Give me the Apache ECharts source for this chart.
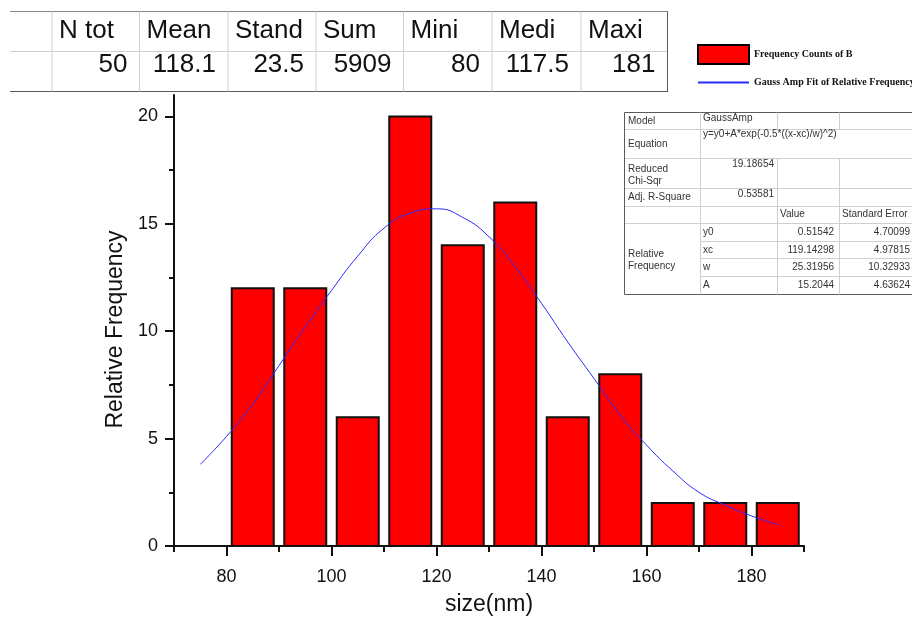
<!DOCTYPE html>
<html>
<head>
<meta charset="utf-8">
<script src="https://cdn.jsdelivr.net/npm/echarts@6/dist/echarts.min.js"></script>
<style>
  html, body { margin: 0; padding: 0; background: #fff; }
  #chart { width: 912px; height: 622px; }
</style>
</head>
<body>
<div id="chart"></div>
<script>
  // histogram bins (left edge, width 10) and counts
  var binStarts = [80, 90, 100, 110, 120, 130, 140, 150, 160, 170, 180];
  var counts = [12, 12, 6, 20, 14, 16, 6, 8, 2, 2, 2];

  // gauss fit curve
  var fitX = [75, 80, 85, 90, 95, 100, 105, 110, 115, 120, 125, 130, 135, 140, 145, 150, 155, 160, 165, 170, 175, 180, 185];
  var fitY = [3.8, 5.1, 6.6, 8.4, 10.2, 11.9, 13.5, 14.8, 15.5, 15.7, 15.3, 14.4, 13.0, 11.3, 9.5, 7.8, 6.1, 4.7, 3.5, 2.5, 1.9, 1.4, 1.0];

  // axis ticks
  var xMajor = [80, 100, 120, 140, 160, 180];
  var xMinor = [70, 90, 110, 130, 150, 170, 190];
  var yMajor = [0, 5, 10, 15, 20];
  var yMinor = [2.5, 7.5, 12.5, 17.5];

  // statistics table
  var statHeaders = ['N tot', 'Mean', 'Stand', 'Sum', 'Mini', 'Medi', 'Maxi'];
  var statValues = ['50', '118.1', '23.5', '5909', '80', '117.5', '181'];

  // fit parameter table
  var fitParams = ['y0', 'xc', 'w', 'A'];
  var fitValues = ['0.51542', '119.14298', '25.31956', '15.2044'];
  var fitErrors = ['4.70099', '4.97815', '10.32933', '4.63624'];

  var BIN_W = 10, GAP = 1;
  var SANS = 'Liberation Sans, Arial, sans-serif';
  var LIGHT = '#cfcfcf', DARK = '#5a5a5a';

  var graphics = [];
  function hline(x1, x2, y, c) {
    graphics.push({ type: 'line', shape: { x1: x1, y1: y, x2: x2, y2: y }, style: { stroke: c, lineWidth: 1 }, silent: true });
  }
  function vline(x, y1, y2, c) {
    graphics.push({ type: 'line', shape: { x1: x, y1: y1, x2: x, y2: y2 }, style: { stroke: c, lineWidth: 1 }, silent: true });
  }
  function txt(s, x, y, size, align, color) {
    graphics.push({
      type: 'text', x: x, y: y, silent: true,
      style: { text: s, fontSize: size, fontFamily: SANS, fill: color || '#111',
        align: align, textAlign: align, verticalAlign: 'middle', textVerticalAlign: 'middle' }
    });
  }

  // --- stats table (top left)
  var sCols = [52, 139.5, 228, 316, 403.5, 492, 581, 667.5];
  hline(10, 668, 11.5, '#888');
  hline(10, 668, 51.5, LIGHT);
  hline(10, 668, 91.5, DARK);
  for (var i = 0; i < sCols.length - 1; i++) vline(sCols[i], 11.5, 91.5, LIGHT);
  vline(667.5, 11.5, 91.5, DARK);
  statHeaders.forEach(function (h, i) {
    txt(h, sCols[i] + 7, 31, 26, 'left');
    txt(statValues[i], sCols[i + 1] - 12, 65, 26, 'right');
  });

  // --- fit table (top right)
  var fc = [624.5, 700.5, 777.5, 839.5, 912];
  var fr = [112.5, 129.5, 158.5, 188.5, 206.5, 223.5, 241.5, 258.5, 276.5, 294.5];
  hline(fc[0], 912, fr[0], DARK);
  hline(fc[0], 912, fr[9], DARK);
  for (var r = 1; r <= 5; r++) hline(fc[0], 912, fr[r], LIGHT);
  for (var r2 = 6; r2 <= 8; r2++) hline(fc[1], 912, fr[r2], LIGHT);
  vline(fc[0], fr[0], fr[9], DARK);
  vline(fc[1], fr[0], fr[9], LIGHT);
  [fc[2], fc[3]].forEach(function (x) {
    vline(x, fr[0], fr[1], LIGHT);
    vline(x, fr[2], fr[9], LIGHT);
  });
  var C = '#333';
  txt('Model', 628, 121, 10, 'left', C);
  txt('GaussAmp', 703, 118, 10, 'left', C);
  txt('Equation', 628, 144, 10, 'left', C);
  txt('y=y0+A*exp(-0.5*((x-xc)/w)^2)', 703, 134, 10, 'left', C);
  txt('Reduced', 628, 169, 10, 'left', C);
  txt('Chi-Sqr', 628, 181, 10, 'left', C);
  txt('19.18654', 774, 164, 10, 'right', C);
  txt('Adj. R-Square', 628, 197, 10, 'left', C);
  txt('0.53581', 774, 194, 10, 'right', C);
  txt('Value', 780, 214, 10, 'left', C);
  txt('Standard Error', 842, 214, 10, 'left', C);
  txt('Relative', 628, 254, 10, 'left', C);
  txt('Frequency', 628, 266, 10, 'left', C);
  fitParams.forEach(function (p, i) {
    var cy = (fr[5 + i] + fr[6 + i]) / 2;
    txt(p, 703, cy, 10, 'left', C);
    txt(fitValues[i], 834, cy, 10, 'right', C);
    txt(fitErrors[i], 910, cy, 10, 'right', C);
  });

  var chart = echarts.init(document.getElementById('chart'));
  var axisCol = '#111';
  var option = {
    animation: false,
    backgroundColor: '#fff',
    grid: { left: 174, right: 108, top: 95, bottom: 76 },
    legend: {
      orient: 'vertical', left: 692, top: 39,
      itemWidth: 51, itemHeight: 19, itemGap: 10,
      textStyle: { fontFamily: 'Liberation Serif, Times New Roman, serif', fontWeight: 'bold', fontSize: 10, color: '#111' },
      data: [
        { name: 'Frequency Counts of B', icon: 'rect', itemStyle: { color: '#ff0000', borderColor: '#000', borderWidth: 2 } },
        { name: 'Gauss Amp Fit of Relative Frequency', itemStyle: { opacity: 0, color: 'transparent', borderWidth: 0 } }
      ]
    },
    xAxis: [{
      type: 'value', min: 70, max: 190,
      name: 'size(nm)', nameLocation: 'middle', nameGap: 47,
      nameTextStyle: { fontFamily: SANS, fontSize: 23, color: '#111' },
      axisLine: { show: true, lineStyle: { color: axisCol, width: 2 } },
      axisTick: { show: true, customValues: xMajor, length: 10, lineStyle: { color: axisCol, width: 2 } },
      axisLabel: { customValues: xMajor, margin: 22, fontFamily: SANS, fontSize: 18, color: '#111' },
      splitLine: { show: false }
    }, {
      type: 'value', min: 70, max: 190, position: 'bottom',
      axisLine: { show: false },
      axisTick: { show: true, customValues: xMinor, length: 6, lineStyle: { color: axisCol, width: 2 } },
      axisLabel: { show: false },
      splitLine: { show: false }
    }],
    yAxis: [{
      type: 'value', min: 0, max: 21,
      name: 'Relative Frequency', nameLocation: 'middle', nameGap: 45,
      nameTextStyle: { fontFamily: SANS, fontSize: 23, color: '#111', padding: [0, 18, 0, 0] },
      axisLine: { show: true, lineStyle: { color: axisCol, width: 2 } },
      axisTick: { show: true, customValues: yMajor, length: 9, lineStyle: { color: axisCol, width: 2 } },
      axisLabel: { customValues: yMajor, margin: 16, fontFamily: SANS, fontSize: 18, color: '#111' },
      splitLine: { show: false }
    }, {
      type: 'value', min: 0, max: 21, position: 'left',
      axisLine: { show: false },
      axisTick: { show: true, customValues: yMinor, length: 5, lineStyle: { color: axisCol, width: 2 } },
      axisLabel: { show: false },
      splitLine: { show: false }
    }],
    series: [{
      name: 'Frequency Counts of B',
      type: 'custom',
      xAxisIndex: 0, yAxisIndex: 0,
      itemStyle: { color: '#ff0000', borderColor: '#000', borderWidth: 2 },
      encode: { x: [0, 1], y: 2 },
      data: binStarts.map(function (b, i) { return [b, b + BIN_W, counts[i]]; }),
      renderItem: function (params, api) {
        var p0 = api.coord([api.value(0) + GAP, api.value(2)]);
        var p1 = api.coord([api.value(1) - GAP, 0]);
        return {
          type: 'rect',
          shape: { x: p0[0], y: p0[1], width: p1[0] - p0[0], height: p1[1] - p0[1] },
          style: { fill: '#ff0000', stroke: '#111', lineWidth: 2 }
        };
      }
    }, {
      name: 'Gauss Amp Fit of Relative Frequency',
      type: 'line',
      xAxisIndex: 0, yAxisIndex: 0,
      smooth: true, symbol: 'none',
      color: '#2a2aff',
      lineStyle: { color: '#2a2aff', width: 1 },
      data: fitX.map(function (x, i) { return [x, fitY[i]]; }),
      z: 5
    }],
    graphic: graphics
  };
  chart.setOption(option);
</script>
</body>
</html>
